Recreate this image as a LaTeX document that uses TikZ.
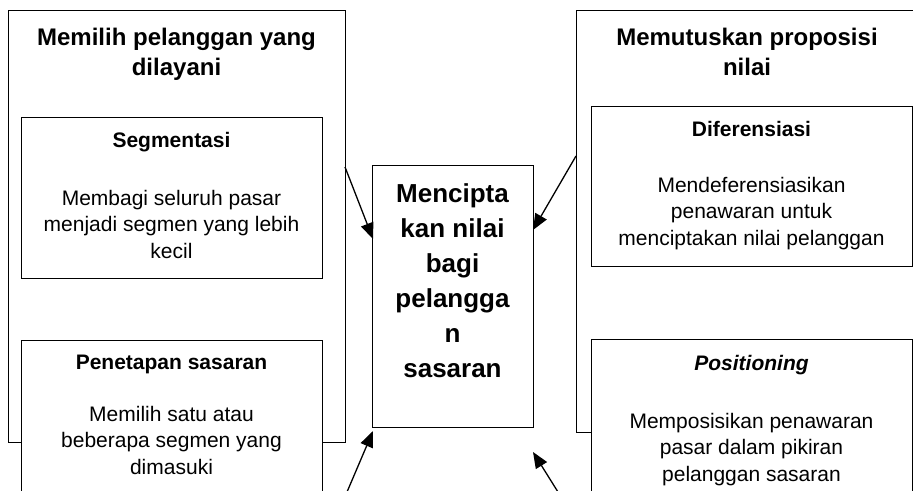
\documentclass[tikz,border=0pt]{standalone}
\usepackage{fontspec}
\setmainfont{Liberation Sans}
\usetikzlibrary{arrows.meta}
\tikzset{
  box/.style={draw, line width=1.4pt, fill=white, anchor=north west, inner sep=0pt},
  ttl/.style={font=\fontsize{24}{30}\selectfont\bfseries, align=center, anchor=base, inner sep=0pt},
  sub/.style={font=\fontsize{21}{25}\selectfont\bfseries, anchor=base, inner sep=0pt},
  body/.style={font=\fontsize{21}{26.5}\selectfont, align=center, anchor=base, inner sep=0pt},
  ctr/.style={font=\fontsize{26}{35}\selectfont\bfseries, align=center, anchor=base, inner sep=0pt},
  arr/.style={line width=1.3pt, -{Triangle[length=16pt,width=13pt]}}
}
\begin{document}
\begin{tikzpicture}[x=1pt,y=-1pt]
\useasboundingbox (0,0) rectangle (913,490);
\clip (0,0) rectangle (913,490);
% left group
\node[box, minimum width=337pt, minimum height=432pt] (lo) at (8,10) {};
\node[ttl] (lot) at (176.5,75.5) {Memilih pelanggan yang\\dilayani};
\node[box, minimum width=301pt, minimum height=161pt] (ls) at (21,117) {};
\node[sub] (lst) at (171.5,147.5) {Segmentasi};
\node[body] (lsb) at (171.5,258) {Membagi seluruh pasar\\menjadi segmen yang lebih\\kecil};
\node[box, minimum width=301pt, minimum height=170pt] (lp) at (21,340) {};
\node[sub] (lpt) at (171.5,369) {Penetapan sasaran};
\node[body] (lpb) at (171.5,474) {Memilih satu atau\\beberapa segmen yang\\dimasuki};
% right group
\node[box, minimum width=342pt, minimum height=422pt] (ro) at (576,10) {};
\node[ttl] (rot) at (747,75) {Memutuskan proposisi\\nilai};
\node[box, minimum width=321pt, minimum height=160pt] (rd) at (591,106) {};
\node[sub] (rdt) at (751.5,136.5) {Diferensiasi};
\node[body] (rdb) at (751.5,245) {Mendeferensiasikan\\penawaran untuk\\menciptakan nilai pelanggan};
\node[box, minimum width=321pt, minimum height=170pt] (rp) at (591,339) {};
\node[sub] (rpt) at (751.5,370) {\itshape Positioning};
\node[body] (rpb) at (751.5,481) {Memposisikan penawaran\\pasar dalam pikiran\\pelanggan sasaran};
% center
\node[box, minimum width=161pt, minimum height=262pt] (c) at (372,165) {};
\node[ctr] (ct) at (452.5,377) {Mencipta\\kan nilai\\bagi\\pelangga\\n\\sasaran};
% arrows
\coordinate (a1s) at (345,167);
\coordinate (a1e) at (373,239);
\coordinate (a2s) at (576,156);
\coordinate (a2e) at (533,230);
\coordinate (a3s) at (347,492);
\coordinate (a3e) at (373,431);
\coordinate (a4s) at (558,492);
\coordinate (a4e) at (533,452);
\draw[arr] (a1s) -- (a1e);
\draw[arr] (a2s) -- (a2e);
\draw[arr] (a3s) -- (a3e);
\draw[arr] (a4s) -- (a4e);
\end{tikzpicture}
\end{document}
